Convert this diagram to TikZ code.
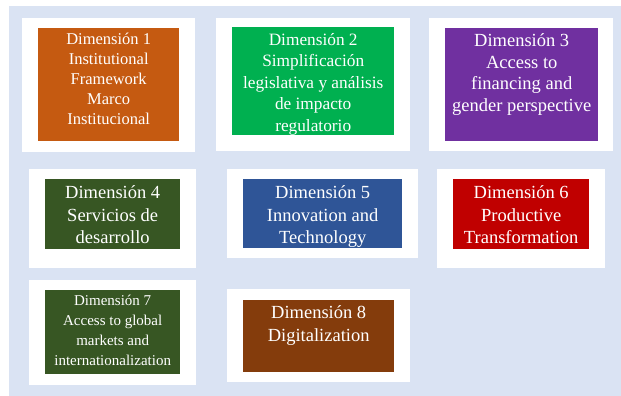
\documentclass[tikz,border=0pt]{standalone}
\usepackage{fontspec}
\setmainfont{Liberation Serif}
\usetikzlibrary{positioning}

\definecolor{bgblue}{HTML}{DAE3F3}
\definecolor{dimorange}{HTML}{C55A11}
\definecolor{dimgreen}{HTML}{00B050}
\definecolor{dimpurple}{HTML}{7030A0}
\definecolor{dimolive}{HTML}{375623}
\definecolor{dimblue}{HTML}{2F5597}
\definecolor{dimred}{HTML}{C00000}
\definecolor{dimbrown}{HTML}{843C0C}

\begin{document}
\begin{tikzpicture}[x=1pt, y=-1pt,
    frame/.style={fill=white, inner sep=0pt, anchor=north west},
    block/.style={fill=#1, inner sep=0pt, anchor=north west},
    dimtext/.style={text=white, inner sep=0pt, align=center}]
    \useasboundingbox (0,0) rectangle (621,396);
    \fill [bgblue] (9,6) rectangle (621,396);

    % white frames
    \node [frame, minimum width=173pt, minimum height=134pt] (f1) at (22,18) {};
    \node [frame, minimum width=194pt, minimum height=133pt] (f2) at (216,18) {};
    \node [frame, minimum width=184pt, minimum height=133pt] (f3) at (429,18) {};
    \node [frame, minimum width=167pt, minimum height=99pt] (f4) at (29,169) {};
    \node [frame, minimum width=191pt, minimum height=89pt] (f5) at (227,169) {};
    \node [frame, minimum width=168pt, minimum height=99pt] (f6) at (437,169) {};
    \node [frame, minimum width=167pt, minimum height=105pt] (f7) at (29,280) {};
    \node [frame, minimum width=183pt, minimum height=93pt] (f8) at (227,289) {};

    % coloured blocks
    \node [block=dimorange, minimum width=141pt, minimum height=113pt] (d1) at (38,28) {};
    \node [block=dimgreen, minimum width=162pt, minimum height=108pt] (d2) at (232,27) {};
    \node [block=dimpurple, minimum width=153pt, minimum height=113pt] (d3) at (445,28) {};
    \node [block=dimolive, minimum width=135pt, minimum height=70pt] (d4) at (45,179) {};
    \node [block=dimblue, minimum width=159pt, minimum height=69pt] (d5) at (243,179) {};
    \node [block=dimred, minimum width=136pt, minimum height=70pt] (d6) at (453,179) {};
    \node [block=dimolive, minimum width=135pt, minimum height=84pt] (d7) at (45,290) {};
    \node [block=dimbrown, minimum width=151pt, minimum height=72pt] (d8) at (243,300) {};

    % texts
    \node [dimtext, font=\fontsize{16.5}{20}\selectfont, below=5pt of d1.north] (t1)
      {Dimensión 1\\Institutional\\Framework\\Marco\\Institucional};
    \node [dimtext, font=\fontsize{17.3}{21.5}\selectfont, below=6pt of d2.north] (t2)
      {Dimensión 2\\Simplificación\\legislativa y análisis\\de impacto\\regulatorio};
    \node [dimtext, font=\fontsize{18.5}{21.5}\selectfont, below=5.5pt of d3.north] (t3)
      {Dimensión 3\\Access to\\financing and\\gender perspective};
    \node [dimtext, font=\fontsize{18.5}{22.5}\selectfont, below=6.5pt of d4.north] (t4)
      {Dimensión 4\\Servicios de\\desarrollo};
    \node [dimtext, font=\fontsize{18.5}{22.5}\selectfont, below=6.5pt of d5.north] (t5)
      {Dimensión 5\\Innovation and\\Technology};
    \node [dimtext, font=\fontsize{18.5}{22.5}\selectfont, below=6.5pt of d6.north] (t6)
      {Dimensión 6\\Productive\\Transformation};
    \node [dimtext, font=\fontsize{15}{20}\selectfont, below=4.5pt of d7.north] (t7)
      {Dimensión 7\\Access to global\\markets and\\internationalization};
    \node [dimtext, font=\fontsize{18.5}{23}\selectfont, below=5.5pt of d8.north] (t8)
      {Dimensión 8\\Digitalization};

\end{tikzpicture}
\end{document}
